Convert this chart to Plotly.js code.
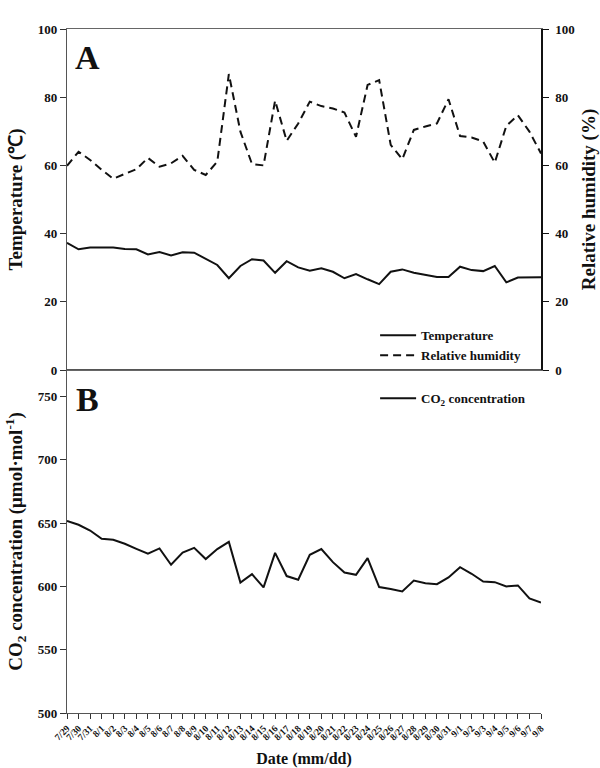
<!DOCTYPE html>
<html>
<head>
<meta charset="utf-8">
<script src="https://cdn.plot.ly/plotly-3.0.1.min.js"></script>
<style>
  html, body { margin: 0; padding: 0; background: #fff; }
  #chart { width: 600px; height: 768px; }
</style>
</head>
<body>
<div id="chart"></div>
<script>
// Daily observation dates (mm/dd)
const dates = [
  '7/29','7/30','7/31','8/1','8/2','8/3','8/4','8/5','8/6','8/7','8/8','8/9','8/10','8/11',
  '8/12','8/13','8/14','8/15','8/16','8/17','8/18','8/19','8/20','8/21','8/22','8/23','8/24',
  '8/25','8/26','8/27','8/28','8/29','8/30','8/31','9/1','9/2','9/3','9/4','9/5','9/6','9/7','9/8'
];

// Daily mean air temperature (°C)
const temperature = [
  37.3, 35.4, 35.9, 35.8, 35.9, 35.5, 35.4, 33.9, 34.6, 33.6, 34.5, 34.4, 32.6, 30.8,
  26.9, 30.5, 32.5, 32.1, 28.5, 31.9, 30.1, 29.1, 29.8, 28.8, 26.9, 28.1, 26.6,
  25.2, 28.8, 29.5, 28.5, 27.8, 27.3, 27.3, 30.3, 29.3, 29.0, 30.5, 25.7, 27.1, 27.1, 27.2
];

// Daily mean relative humidity (%)
const humidity = [
  59.9, 64.0, 61.6, 58.7, 56.1, 57.5, 58.9, 62.2, 59.6, 60.6, 62.8, 58.7, 57.2, 61.1,
  86.8, 69.9, 60.4, 60.0, 79.0, 67.2, 72.3, 78.7, 77.4, 76.7, 75.5, 68.4, 83.6,
  85.0, 66.0, 61.8, 70.4, 71.4, 72.3, 79.4, 68.6, 68.2, 67.0, 60.8, 71.6, 74.7, 69.9, 63.5
];

// Daily mean CO2 concentration (µmol·mol-1)
const co2 = [
  651.8, 648.7, 644.2, 637.6, 636.8, 633.7, 629.7, 625.8, 630.0, 617.1, 626.8, 630.5, 621.6, 629.5,
  635.2, 603.1, 609.7, 599.2, 626.5, 608.2, 605.3, 625.0, 629.5, 619.2, 611.0, 609.2, 622.4,
  599.5, 597.9, 596.0, 604.7, 602.6, 601.8, 607.1, 615.2, 610.0, 603.9, 603.4, 600.0, 600.8, 590.5, 587.3
];

const serif = 'Liberation Serif, Times New Roman, serif';
const boldTick = { family: serif, size: 13, color: '#111', weight: 'bold' };
const yTitleFont = { family: serif, size: 19, color: '#111', weight: 'bold' };
const xTitleFont = { family: serif, size: 16, color: '#111', weight: 'bold' };
const legendFont = { family: serif, size: 13, color: '#111', weight: 'bold' };

const traces = [
  {
    x: dates, y: temperature, name: 'Temperature', type: 'scatter', mode: 'lines',
    xaxis: 'x', yaxis: 'y', legend: 'legend',
    line: { color: '#111', width: 2 }
  },
  {
    x: dates, y: humidity, name: 'Relative humidity', type: 'scatter', mode: 'lines',
    xaxis: 'x', yaxis: 'y2', legend: 'legend',
    line: { color: '#111', width: 2, dash: '8px,5px' }
  },
  {
    x: dates, y: co2, name: 'CO<sub>2</sub> concentration', type: 'scatter', mode: 'lines',
    xaxis: 'x2', yaxis: 'y3', legend: 'legend2',
    line: { color: '#111', width: 2 }
  }
];

const splitFrac = 343 / 684;

const layout = {
  width: 600, height: 768,
  margin: { l: 67, r: 59, t: 29, b: 55 },
  paper_bgcolor: '#fff', plot_bgcolor: '#fff',
  font: { family: serif, color: '#111' },
  showlegend: true,
  // Panel A: shared date axis with no labels
  xaxis: {
    domain: [0, 1], anchor: 'y', type: 'category',
    range: [0, dates.length - 1],
    showgrid: false, zeroline: false,
    showline: true, mirror: true, linecolor: '#666', linewidth: 1.2,
    showticklabels: false, ticks: ''
  },
  // Panel B: date axis with rotated labels
  xaxis2: {
    domain: [0, 1], anchor: 'y3', type: 'category',
    range: [0, dates.length - 1],
    showgrid: false, zeroline: false,
    showline: true, mirror: true, linecolor: '#555', linewidth: 1.2,
    ticks: 'outside', ticklen: 5, tickcolor: '#333',
    tickangle: -45,
    tickfont: { family: serif, size: 9.5, color: '#111', weight: 'bold' },
    title: { text: 'Date (mm/dd)', font: xTitleFont, standoff: 16 }
  },
  yaxis: {
    domain: [splitFrac, 1], anchor: 'x',
    range: [0, 100], tickvals: [0, 20, 40, 60, 80, 100],
    showgrid: false, zeroline: false,
    showline: true, linecolor: '#555', linewidth: 1.2,
    ticks: 'outside', ticklen: 6, tickcolor: '#333',
    tickfont: boldTick,
    title: { text: 'Temperature (℃)', font: yTitleFont, standoff: 10 }
  },
  yaxis2: {
    domain: [splitFrac, 1], anchor: 'x', overlaying: 'y', side: 'right',
    range: [0, 100], tickvals: [0, 20, 40, 60, 80, 100],
    showgrid: false, zeroline: false,
    showline: true, linecolor: '#111', linewidth: 1.5,
    ticks: 'outside', ticklen: 6, tickcolor: '#111',
    ticklabelstandoff: 4,
    tickfont: boldTick,
    title: { text: 'Relative humidity (%)', font: yTitleFont, standoff: 17 }
  },
  yaxis3: {
    domain: [0, splitFrac], anchor: 'x2',
    range: [500, 771], tickvals: [500, 550, 600, 650, 700, 750],
    showgrid: false, zeroline: false,
    showline: true, linecolor: '#555', linewidth: 1.2,
    ticks: 'outside', ticklen: 6, tickcolor: '#333',
    tickfont: boldTick,
    title: { text: 'CO<sub>2</sub> concentration (μmol·mol<sup>-1</sup>)', font: yTitleFont, standoff: 10 }
  },
  legend: {
    x: 0.65, xanchor: 'left', y: 0.574, yanchor: 'top',
    bgcolor: 'rgba(0,0,0,0)', borderwidth: 0,
    font: legendFont, tracegroupgap: 0, itemwidth: 36
  },
  legend2: {
    x: 0.65, xanchor: 'left', y: 0.482, yanchor: 'top',
    bgcolor: 'rgba(0,0,0,0)', borderwidth: 0,
    font: legendFont, itemwidth: 36
  },
  annotations: [
    { text: 'A', xref: 'paper', yref: 'paper', x: 0.044, y: 0.959,
      xanchor: 'center', yanchor: 'middle', showarrow: false,
      font: { family: serif, size: 34, color: '#111', weight: 'bold' } },
    { text: 'B', xref: 'paper', yref: 'paper', x: 0.044, y: 0.459,
      xanchor: 'center', yanchor: 'middle', showarrow: false,
      font: { family: serif, size: 34, color: '#111', weight: 'bold' } }
  ]
};

Plotly.newPlot('chart', traces, layout, { displayModeBar: false, responsive: false });
</script>
</body>
</html>
